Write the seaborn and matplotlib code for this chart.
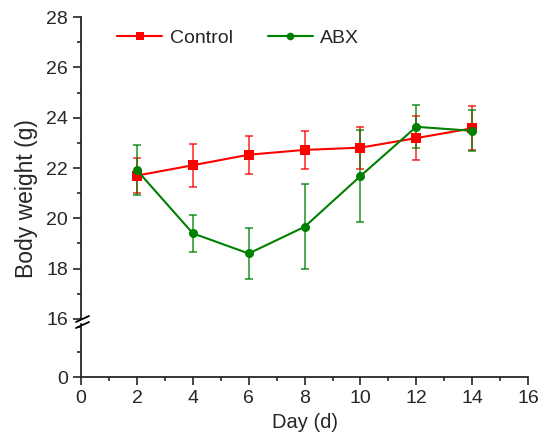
import numpy as np
import pandas as pd
import seaborn as sns
import matplotlib.pyplot as plt
from matplotlib.lines import Line2D
from matplotlib.ticker import MultipleLocator

days = [2, 4, 6, 8, 10, 12, 14]
control_mean = [21.70, 22.11, 22.53, 22.72, 22.81, 23.19, 23.58]
control_err = [0.68, 0.85, 0.76, 0.76, 0.84, 0.87, 0.88]
abx_mean = [21.91, 19.40, 18.60, 19.66, 21.68, 23.64, 23.48]
abx_err = [0.99, 0.74, 1.00, 1.69, 1.83, 0.85, 0.82]
groups = ["Control", "ABX"]
colors = {"Control": "#FF0000", "ABX": "#008000"}

df = pd.DataFrame({
    "day": days * 2,
    "weight": control_mean + abx_mean,
    "err": control_err + abx_err,
    "group": ["Control"] * len(days) + ["ABX"] * len(days),
})

sns.set_style("ticks")
plt.rcParams["font.family"] = ["Liberation Sans", "DejaVu Sans"]
plt.rcParams["font.size"] = 14

fig = plt.figure(figsize=(5.41, 4.41), dpi=100)
ax = fig.add_axes([0.150, 0.277, 0.826, 0.684])
ax_low = fig.add_axes([0.150, 0.145, 0.826, 0.120], sharex=ax)

for g in groups:
    sub = df[df["group"] == g]
    ax.errorbar(sub["day"], sub["weight"], yerr=sub["err"], fmt="none",
                ecolor=colors[g], elinewidth=1.2, capsize=3, capthick=1.2,
                alpha=0.8, zorder=2)

sns.lineplot(data=df, x="day", y="weight", hue="group", style="group",
             hue_order=groups, style_order=groups, palette=colors,
             markers={"Control": "s", "ABX": "o"}, dashes=False,
             markersize=6.5, markeredgewidth=0, linewidth=1.5, ax=ax, zorder=3)

# upper segment
ax.set_ylim(16, 28)
ax.set_yticks(np.arange(16, 29, 2))
ax.yaxis.set_minor_locator(MultipleLocator(1))
ax.spines[["top", "right", "bottom"]].set_visible(False)
ax.tick_params(axis="x", which="both", bottom=False, labelbottom=False)
ax.set_xlabel("")
ax.set_ylabel("Body weight (g)", fontsize=16.5)
ax.yaxis.set_label_coords(-0.097, 0.4)

# lower segment
ax_low.set_ylim(0, 2.1)
ax_low.set_yticks([0])
ax_low.yaxis.set_minor_locator(MultipleLocator(1))
ax_low.spines[["top", "right"]].set_visible(False)
ax_low.set_xlim(0, 16)
ax_low.set_xticks(np.arange(0, 17, 2))
ax_low.xaxis.set_minor_locator(MultipleLocator(1))
ax_low.set_xlabel("Day (d)", fontsize=14.5, labelpad=4)

for a in (ax, ax_low):
    for s in a.spines.values():
        s.set_linewidth(1.3)
    a.tick_params(which="major", direction="out", length=6, width=1.2,
                  labelsize=14, pad=3.5)
    a.tick_params(which="minor", direction="out", length=3, width=1.2)

# break marks
for yb in (319, 325):
    fig.add_artist(Line2D([76, 89], [441 - yb - 3, 441 - yb + 3],
                          transform=None, color="black", linewidth=1.3))

handles, labels = ax.get_legend_handles_labels()
for h in handles:
    h.set_markersize(5.5)
ax.legend(handles, labels, ncol=2, frameon=False, loc="upper left",
          bbox_to_anchor=(0.042, 1.018), handlelength=2.3, columnspacing=1.8,
          handletextpad=0.4, fontsize=14)

fig.savefig("out.png", dpi=100)
